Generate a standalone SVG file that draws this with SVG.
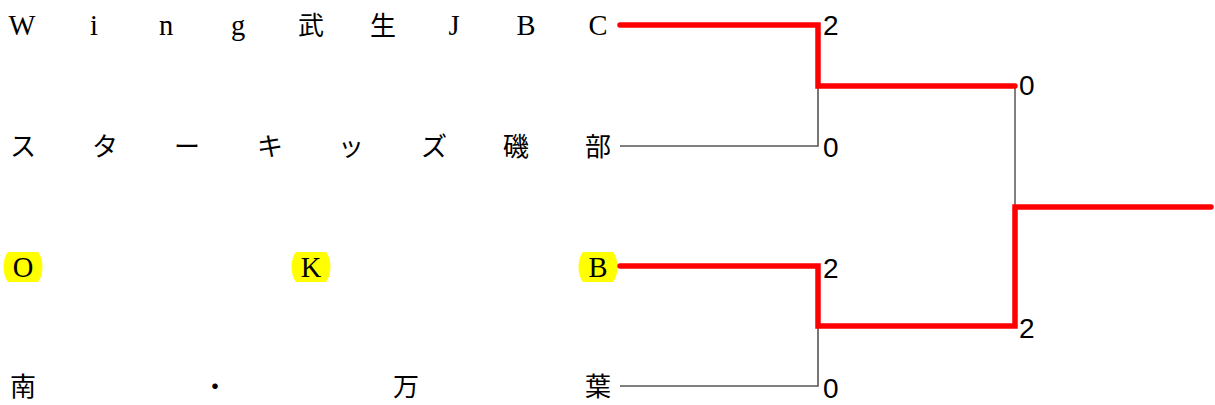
<svg xmlns="http://www.w3.org/2000/svg" width="1215" height="405" viewBox="0 0 1215 405">
<style>
.t{font-family:"Liberation Serif","Noto Sans CJK JP",serif;font-size:26px;fill:#000;text-anchor:middle}
.l{font-size:28.5px}
.s{font-family:"Liberation Sans",Arial,sans-serif;font-size:28px;fill:#000}
.hl{fill:#ffff00}
.win{fill:none;stroke:#ff0000;stroke-width:5.5;stroke-linecap:round;stroke-linejoin:miter}
.lose{fill:none;stroke:#555;stroke-width:1.6}
.v{fill:none;stroke:#000;stroke-width:1}
</style>
<rect width="1215" height="405" fill="#fff"/>
<g id="team1">
<text class="t" y="35"><tspan class="l" x="22">W</tspan><tspan class="l" x="94">i</tspan><tspan class="l" x="166">n</tspan><tspan class="l" x="238">g</tspan><tspan x="311">武</tspan><tspan x="383">生</tspan><tspan class="l" x="454">J</tspan><tspan class="l" x="526">B</tspan><tspan class="l" x="598">C</tspan></text>
</g>
<g id="team2">
<text class="t" y="156"><tspan x="23">ス</tspan><tspan x="105">タ</tspan><tspan x="187">ー</tspan><tspan x="270">キ</tspan><tspan x="351">ッ</tspan><tspan x="434">ズ</tspan><tspan x="516">磯</tspan><tspan x="598">部</tspan></text>
</g>
<g id="team3">
<path class="hl" d="M8,252 H38 A10,18 0 0 1 38,282 H8 A10,18 0 0 1 8,252 Z"/>
<path class="hl" d="M296,252 H326 A10,18 0 0 1 326,282 H296 A10,18 0 0 1 296,252 Z"/>
<path class="hl" d="M583,252 H613 A10,18 0 0 1 613,282 H583 A10,18 0 0 1 583,252 Z"/>
<text class="t l" y="277"><tspan x="23">O</tspan><tspan x="311">K</tspan><tspan x="598">B</tspan></text>
</g>
<g id="team4">
<text class="t" y="396"><tspan x="23">南</tspan><tspan x="215">・</tspan><tspan x="406">万</tspan><tspan x="598">葉</tspan></text>
</g>
<g id="connectors">
<polyline class="lose" points="620,146 818,146 818,86"/>
<polyline class="lose" points="620,386 818,386 818,326"/>
<line class="v" x1="1015" y1="86" x2="1015" y2="207"/>
<polyline class="win" points="620,25 818,25 818,86 1015,86"/>
<polyline class="win" points="620,266 818,266 818,326 1015,326 1015,207 1211,207"/>
</g>
<g id="scores">
<text class="s" x="823" y="35">2</text>
<text class="s" x="823" y="157">0</text>
<text class="s" x="1019" y="95">0</text>
<text class="s" x="823" y="278">2</text>
<text class="s" x="1019" y="338">2</text>
<text class="s" x="823" y="398">0</text>
</g>
</svg>
